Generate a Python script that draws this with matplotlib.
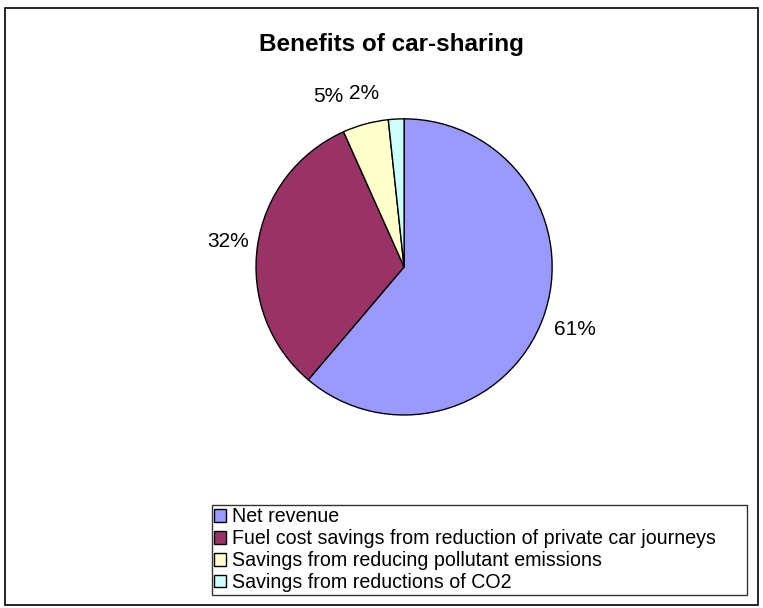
import numpy as np
import matplotlib
matplotlib.use("Agg")
from matplotlib import pyplot as plt
from matplotlib.patches import Rectangle

plt.rcParams["font.family"] = ["Liberation Sans", "DejaVu Sans"]

# data
categories = [
    "Net revenue",
    "Fuel cost savings from reduction of private car journeys",
    "Savings from reducing pollutant emissions",
    "Savings from reductions of CO2",
]
shares = [61.2, 32.1, 5.0, 1.7]
colors = ["#9999FF", "#993366", "#FFFFCC", "#CCFFFF"]
# Excel pushes the two narrow labels apart, in degrees
labelShift = [0, 0, 9, 10]
labelDistance = [1.23, 1.2, 1.26, 1.2]

fig = plt.figure(figsize=(7.63, 6.08), dpi=100)

# outer chart border
fig.patches.append(Rectangle(
    (5 / 763, 3 / 608), 753 / 763, 597 / 608,
    transform=fig.transFigure, fill=False, edgecolor="black", linewidth=1.2
))

fig.text(391 / 763, 1 - 44 / 608, "Benefits of car-sharing",
         ha="center", va="center", fontsize=17.5, fontweight="bold")

ax = fig.add_axes([0.2773, 0.2444, 0.5046, 0.6332])
wedges, _ = ax.pie(
    shares,
    colors=colors,
    startangle=90,
    counterclock=False,
    wedgeprops={"edgecolor": "black", "linewidth": 1.0},
)
for i, wedge in enumerate(wedges):
    mid = np.deg2rad((wedge.theta1 + wedge.theta2) / 2 + labelShift[i])
    r = labelDistance[i]
    ax.text(r * np.cos(mid), r * np.sin(mid), "%d%%" % round(shares[i]),
            ha="center", va="center", fontsize=15)
ax.set_xlim(-1.3, 1.3)
ax.set_ylim(-1.3, 1.3)
ax.set_aspect("equal")
ax.axis("off")

handles = [Rectangle((0, 0), 1, 1, facecolor=c, edgecolor="black", linewidth=1.0)
           for c in colors]
leg = fig.legend(
    handles, categories,
    loc="upper left",
    bbox_to_anchor=(212 / 763, 1 - 595 / 608, 535 / 763, 90 / 608),
    mode="expand",
    fontsize=14.1,
    frameon=True,
    fancybox=False,
    handlelength=0.6,
    handleheight=0.6,
    handletextpad=0.3,
    labelspacing=0.15,
    borderpad=0.12,
    borderaxespad=0,
)
leg.get_frame().set_edgecolor("black")
leg.get_frame().set_linewidth(1.0)

plt.savefig("out.png", dpi=100)
